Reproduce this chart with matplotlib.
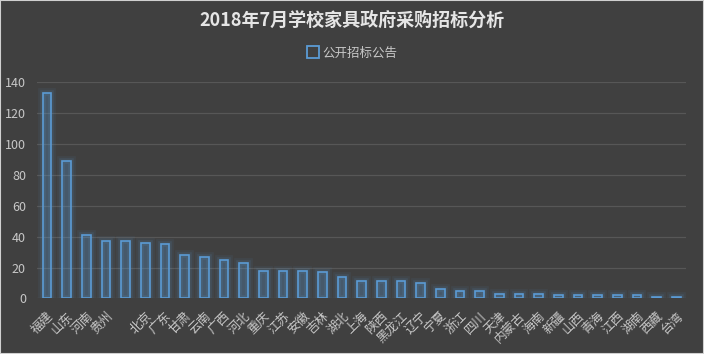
import matplotlib
matplotlib.use('Agg')
import matplotlib.pyplot as plt
import matplotlib.patheffects as pe
from matplotlib.lines import Line2D

plt.rcParams['font.family'] = ['Noto Sans CJK SC', 'DejaVu Sans']

provinces = ['福建', '山东', '河南', '贵州', '', '北京', '广东', '甘肃', '云南', '广西', '河北',
             '重庆', '江苏', '安徽', '吉林', '湖北', '上海', '陕西', '黑龙江', '辽宁', '宁夏',
             '浙江', '四川', '天津', '内蒙古', '海南', '新疆', '山西', '青海', '江西', '湖南',
             '西藏', '台湾']
counts = [133, 89, 41, 37, 37, 36, 35, 28, 27, 25, 23,
          18, 18, 18, 17, 14, 11, 11, 11, 10, 6,
          5, 5, 3, 3, 3, 2, 2, 2, 2, 2,
          1, 1]
series_name = '公开招标公告'
title = '2018年7月学校家具政府采购招标分析'

bg = '#404040'
blue = '#5B9BD5'
txt = '#c8c8c8'

fig = plt.figure(figsize=(7.04, 3.54), dpi=100, facecolor=bg)
ax = fig.add_axes([0.0526, 0.157, 0.922, 0.6105])
ax.set_facecolor(bg)

x = range(len(provinces))
glow = [pe.Stroke(linewidth=7, foreground=blue, alpha=0.07),
        pe.Stroke(linewidth=4, foreground=blue, alpha=0.12),
        pe.Normal()]
ax.bar(x, counts, width=0.44, facecolor=(0.36, 0.61, 0.84, 0.08), edgecolor=blue,
       linewidth=1.2, zorder=3, path_effects=glow)

ax.set_xlim(-0.5, len(provinces) - 0.5)
ax.set_ylim(0, 140)
ax.set_yticks(range(0, 141, 20))
ax.grid(axis='y', color='#575757', linewidth=0.9, zorder=0)
for s in ax.spines.values():
    s.set_visible(False)
ax.tick_params(axis='both', length=0, colors=txt, labelsize=9)
ax.tick_params(axis='y', pad=8)
ax.tick_params(axis='x', pad=8)
ax.set_xticks(list(x))
ax.set_xticklabels(provinces, rotation=45, ha='right', rotation_mode='anchor')

fig.text(0.5, 0.942, title, ha='center', va='center', fontsize=13, fontweight='bold', color='#e6e6e6')
h = Line2D([], [], marker='s', linestyle='none', markersize=8, markerfacecolor='none',
           markeredgecolor=blue, markeredgewidth=1.3)
fig.legend([h], [series_name], loc='center', bbox_to_anchor=(0.5, 0.85), frameon=False,
           fontsize=9, labelcolor=txt, handletextpad=0.2, handlelength=1.0)

fig.patches.append(plt.Rectangle((0, 0), 1, 1, transform=fig.transFigure, fill=False,
                                 edgecolor='#d0d0d0', linewidth=1.5))

fig.savefig('out.png', dpi=100, facecolor=bg)
